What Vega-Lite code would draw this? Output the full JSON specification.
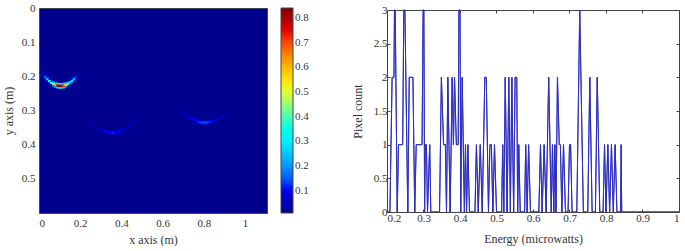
{"$schema":"https://vega.github.io/schema/vega-lite/v6.json","background":"white","padding":{"left":1,"top":1,"right":0,"bottom":0},"bounds":"flush","spacing":120,
"config":{"font":"Liberation Serif","view":{"stroke":null},"axis":{"labelFont":"Liberation Serif","titleFont":"Liberation Serif","labelFontSize":11,"titleFontSize":12,"titleFontWeight":"normal","labelColor":"#333","titleColor":"#333","grid":false,"tickColor":"#444","domainColor":"#444"}},
"hconcat":[
{"width":228,"height":205,"view":{"fill":"#00008f","stroke":"#445"},
"data":{"values":[
{"x":0.02,"y":0.19,"v":0.03},{"x":0.03,"y":0.197,"v":0.05},{"x":0.04,"y":0.203,"v":0.08},{"x":0.05,"y":0.209,"v":0.11},{"x":0.06,"y":0.214,"v":0.11},{"x":0.07,"y":0.217,"v":0.16},{"x":0.08,"y":0.22,"v":0.22},{"x":0.09,"y":0.222,"v":0.28},{"x":0.10,"y":0.223,"v":0.3},{"x":0.11,"y":0.223,"v":0.28},{"x":0.12,"y":0.222,"v":0.25},{"x":0.13,"y":0.22,"v":0.2},{"x":0.14,"y":0.217,"v":0.14},{"x":0.15,"y":0.213,"v":0.1},{"x":0.16,"y":0.209,"v":0.1},{"x":0.17,"y":0.203,"v":0.08},{"x":0.18,"y":0.196,"v":0.04},
{"x":0.03,"y":0.207,"v":0.05},{"x":0.04,"y":0.213,"v":0.08},{"x":0.05,"y":0.219,"v":0.11},{"x":0.06,"y":0.224,"v":0.11},{"x":0.07,"y":0.227,"v":0.16},{"x":0.08,"y":0.23,"v":0.22},{"x":0.09,"y":0.232,"v":0.28},{"x":0.10,"y":0.233,"v":0.3},{"x":0.11,"y":0.233,"v":0.28},{"x":0.12,"y":0.232,"v":0.25},{"x":0.13,"y":0.23,"v":0.2},{"x":0.14,"y":0.227,"v":0.14},{"x":0.15,"y":0.223,"v":0.1},{"x":0.16,"y":0.219,"v":0.1},{"x":0.17,"y":0.213,"v":0.08},{"x":0.18,"y":0.206,"v":0.04},
{"x":0.01,"y":0.188,"v":0.04},{"x":0.02,"y":0.195,"v":0.08},{"x":0.03,"y":0.202,"v":0.15},{"x":0.04,"y":0.208,"v":0.25},{"x":0.05,"y":0.214,"v":0.33},{"x":0.06,"y":0.219,"v":0.32},{"x":0.07,"y":0.222,"v":0.45},{"x":0.08,"y":0.225,"v":0.62},{"x":0.09,"y":0.227,"v":0.78},{"x":0.10,"y":0.228,"v":0.84},{"x":0.11,"y":0.228,"v":0.8},{"x":0.12,"y":0.227,"v":0.7},{"x":0.13,"y":0.225,"v":0.55},{"x":0.14,"y":0.222,"v":0.4},{"x":0.15,"y":0.218,"v":0.3},{"x":0.16,"y":0.214,"v":0.3},{"x":0.17,"y":0.208,"v":0.25},{"x":0.18,"y":0.201,"v":0.12},{"x":0.19,"y":0.194,"v":0.06},{"x":0.20,"y":0.187,"v":0.03},
{"x":0.32,"y":0.357,"v":0.03},{"x":0.34,"y":0.36,"v":0.04},{"x":0.36,"y":0.361,"v":0.045},{"x":0.38,"y":0.36,"v":0.04},{"x":0.40,"y":0.356,"v":0.03},{"x":0.33,"y":0.368,"v":0.03},{"x":0.35,"y":0.37,"v":0.04},{"x":0.37,"y":0.37,"v":0.04},{"x":0.39,"y":0.367,"v":0.03},
{"x":0.76,"y":0.326,"v":0.035},{"x":0.78,"y":0.33,"v":0.045},{"x":0.80,"y":0.331,"v":0.05},{"x":0.82,"y":0.331,"v":0.05},{"x":0.84,"y":0.328,"v":0.04},{"x":0.77,"y":0.337,"v":0.04},{"x":0.79,"y":0.34,"v":0.05},{"x":0.81,"y":0.34,"v":0.05},{"x":0.83,"y":0.338,"v":0.04},
{"x":0.24,"y":0.33,"v":0.02},{"x":0.25,"y":0.335,"v":0.025},{"x":0.26,"y":0.34,"v":0.03},{"x":0.27,"y":0.345,"v":0.035},{"x":0.28,"y":0.349,"v":0.045},{"x":0.29,"y":0.353,"v":0.05},{"x":0.30,"y":0.356,"v":0.06},{"x":0.31,"y":0.359,"v":0.07},{"x":0.32,"y":0.361,"v":0.085},{"x":0.33,"y":0.363,"v":0.095},{"x":0.34,"y":0.364,"v":0.105},{"x":0.35,"y":0.365,"v":0.11},{"x":0.36,"y":0.365,"v":0.12},{"x":0.37,"y":0.365,"v":0.11},{"x":0.38,"y":0.364,"v":0.105},{"x":0.39,"y":0.362,"v":0.1},{"x":0.40,"y":0.36,"v":0.09},{"x":0.41,"y":0.357,"v":0.08},{"x":0.42,"y":0.353,"v":0.07},{"x":0.43,"y":0.349,"v":0.06},{"x":0.44,"y":0.344,"v":0.05},{"x":0.45,"y":0.338,"v":0.04},{"x":0.46,"y":0.332,"v":0.035},{"x":0.47,"y":0.325,"v":0.03},{"x":0.48,"y":0.317,"v":0.02},
{"x":0.68,"y":0.295,"v":0.02},{"x":0.69,"y":0.3,"v":0.03},{"x":0.70,"y":0.306,"v":0.045},{"x":0.71,"y":0.311,"v":0.055},{"x":0.72,"y":0.316,"v":0.065},{"x":0.73,"y":0.32,"v":0.07},{"x":0.74,"y":0.324,"v":0.085},{"x":0.75,"y":0.327,"v":0.095},{"x":0.76,"y":0.33,"v":0.105},{"x":0.77,"y":0.332,"v":0.115},{"x":0.78,"y":0.334,"v":0.125},{"x":0.79,"y":0.335,"v":0.13},{"x":0.80,"y":0.335,"v":0.14},{"x":0.81,"y":0.335,"v":0.14},{"x":0.82,"y":0.335,"v":0.13},{"x":0.83,"y":0.333,"v":0.12},{"x":0.84,"y":0.332,"v":0.11},{"x":0.85,"y":0.329,"v":0.1},{"x":0.86,"y":0.327,"v":0.085},{"x":0.87,"y":0.323,"v":0.08},{"x":0.88,"y":0.319,"v":0.065},{"x":0.89,"y":0.314,"v":0.05},{"x":0.9,"y":0.309,"v":0.04},{"x":0.91,"y":0.303,"v":0.025}
]},
"mark":{"type":"rect","width":2.6,"height":2.4},
"encoding":{
"x":{"field":"x","type":"quantitative","scale":{"domain":[0,1.107],"nice":false},"axis":{"values":[0,0.2,0.4,0.6,0.8,1],"title":"x axis (m)","tickSize":0,"labelPadding":4,"domain":false,"titlePadding":6,"format":"~g"}},
"y":{"field":"y","type":"quantitative","scale":{"domain":[0,0.6],"reverse":true,"nice":false},"axis":{"values":[0,0.1,0.2,0.3,0.4,0.5],"title":"y axis (m)","tickSize":0,"labelPadding":4,"domain":false,"titlePadding":0,"format":"~g","minExtent":24,"maxExtent":24}},
"color":{"field":"v","type":"quantitative","scale":{"domain":[0.01,0.114,0.3175,0.52,0.7275,0.84],"range":["#00008f","#0000ff","#00ffff","#ffff00","#ff0000","#800000"]},
"legend":{"title":null,"orient":"none","legendX":242,"legendY":0,"gradientLength":205,"gradientThickness":12,"values":[0.1,0.2,0.3,0.4,0.5,0.6,0.7,0.8],"labelFontSize":11,"labelColor":"#333","labelFont":"Liberation Serif","format":"~g","gradientStrokeColor":"#444","gradientStrokeWidth":1,"tickCount":8}}}},
{"width":292,"height":204,
"data":{"values":[
{"e":0.2,"n":0},{"e":0.208,"n":0},{"e":0.214,"n":2},{"e":0.219,"n":2},{"e":0.2205,"n":3},{"e":0.2225,"n":3},{"e":0.228,"n":0},{"e":0.2315,"n":1},{"e":0.243,"n":1},{"e":0.246,"n":3},{"e":0.249,"n":3},{"e":0.257,"n":0},{"e":0.261,"n":2},{"e":0.271,"n":2},{"e":0.276,"n":0},{"e":0.28,"n":1},{"e":0.296,"n":1},{"e":0.299,"n":3},{"e":0.301,"n":3},{"e":0.303,"n":0},{"e":0.305,"n":1},{"e":0.308,"n":1},{"e":0.311,"n":0},{"e":0.317,"n":1},{"e":0.32,"n":0},{"e":0.344,"n":0},{"e":0.349,"n":2},{"e":0.355,"n":1},{"e":0.36,"n":1},{"e":0.363,"n":0},{"e":0.3666,"n":2},{"e":0.373,"n":0},{"e":0.3786,"n":2},{"e":0.382,"n":1},{"e":0.385,"n":2},{"e":0.39,"n":1},{"e":0.395,"n":1},{"e":0.397,"n":3},{"e":0.4,"n":3},{"e":0.402,"n":0},{"e":0.406,"n":2},{"e":0.412,"n":0},{"e":0.415,"n":1},{"e":0.418,"n":0},{"e":0.4215,"n":1},{"e":0.426,"n":0},{"e":0.441,"n":0},{"e":0.445,"n":1},{"e":0.45,"n":0},{"e":0.4555,"n":1},{"e":0.461,"n":0},{"e":0.468,"n":2},{"e":0.472,"n":2},{"e":0.478,"n":0},{"e":0.482,"n":1},{"e":0.486,"n":1},{"e":0.49,"n":0},{"e":0.4945,"n":1},{"e":0.5,"n":0},{"e":0.514,"n":0},{"e":0.517,"n":1},{"e":0.52,"n":0},{"e":0.524,"n":2},{"e":0.529,"n":0},{"e":0.5337,"n":2},{"e":0.538,"n":0},{"e":0.542,"n":2},{"e":0.547,"n":0},{"e":0.551,"n":2},{"e":0.5555,"n":2},{"e":0.558,"n":0},{"e":0.561,"n":1},{"e":0.565,"n":0},{"e":0.577,"n":0},{"e":0.58,"n":1},{"e":0.584,"n":0},{"e":0.588,"n":1},{"e":0.593,"n":0},{"e":0.616,"n":0},{"e":0.6205,"n":1},{"e":0.625,"n":0},{"e":0.6306,"n":1},{"e":0.636,"n":0},{"e":0.643,"n":2},{"e":0.65,"n":0},{"e":0.6534,"n":1},{"e":0.657,"n":0},{"e":0.66,"n":1},{"e":0.663,"n":0},{"e":0.667,"n":2},{"e":0.672,"n":1},{"e":0.675,"n":1},{"e":0.679,"n":0},{"e":0.6836,"n":1},{"e":0.689,"n":0},{"e":0.696,"n":0},{"e":0.7,"n":1},{"e":0.703,"n":1},{"e":0.707,"n":0},{"e":0.72,"n":0},{"e":0.728,"n":3},{"e":0.738,"n":0},{"e":0.75,"n":0},{"e":0.7556,"n":2},{"e":0.762,"n":0},{"e":0.771,"n":0},{"e":0.776,"n":2},{"e":0.783,"n":0},{"e":0.792,"n":0},{"e":0.796,"n":1},{"e":0.8,"n":0},{"e":0.805,"n":1},{"e":0.81,"n":0},{"e":0.815,"n":1},{"e":0.82,"n":0},{"e":0.825,"n":1},{"e":0.83,"n":0},{"e":0.84,"n":0},{"e":0.8416,"n":1},{"e":0.843,"n":0},{"e":1,"n":0}
]},
"layer":[
{"mark":{"type":"line","color":"#2f2fc0","strokeWidth":1,"clip":true},
"encoding":{
"x":{"field":"e","type":"quantitative","scale":{"domain":[0.2,1],"nice":false},"axis":{"values":[0.2,0.3,0.4,0.5,0.6,0.7,0.8,0.9,1],"title":"Energy (microwatts)","tickSize":-3,"labelPadding":3,"domain":true,"titlePadding":10,"format":"~g"}},
"y":{"field":"n","type":"quantitative","scale":{"domain":[0,3],"nice":false,"range":[204,2]},"axis":{"values":[0,0.5,1,1.5,2,2.5,3],"title":"Pixel count","tickSize":-3,"labelPadding":3,"domain":true,"titlePadding":9,"format":"~g"}}}},
{"mark":{"type":"line","color":"#2f2fc0","strokeWidth":1,"clip":true},
"encoding":{
"x":{"field":"e","type":"quantitative","scale":{"domain":[0.2,1],"nice":false},"axis":{"orient":"top","offset":-2,"values":[0.2,0.3,0.4,0.5,0.6,0.7,0.8,0.9,1],"title":null,"labels":false,"tickSize":-3,"domain":true}},
"y":{"field":"n","type":"quantitative","scale":{"domain":[0,3],"nice":false,"range":[204,2]},"axis":{"orient":"right","values":[0,0.5,1,1.5,2,2.5,3],"title":null,"labels":false,"tickSize":-3,"domain":true}}}}
],
"resolve":{"axis":{"x":"independent","y":"independent"}}}
]}
